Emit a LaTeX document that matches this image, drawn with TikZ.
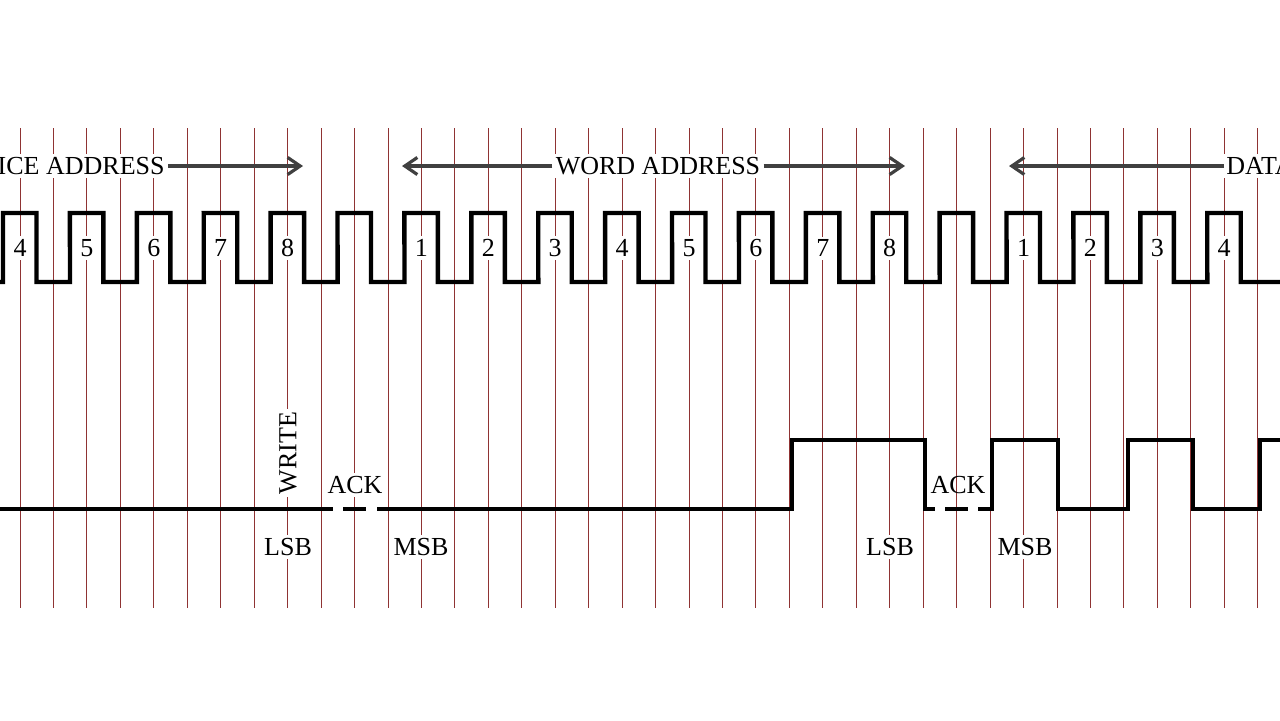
\documentclass[tikz,border=0pt]{standalone}
\usepackage{fontspec}
\setmainfont{Liberation Serif}
\usetikzlibrary{positioning, arrows.meta}

\begin{document}
\begin{tikzpicture}[x=0.5pt, y=-0.5pt,
    gridline/.style={line width=0.45pt, red!45!black!80},
    signal/.style={line width=2.2pt, line join=miter},
    label/.style={font=\fontsize{13}{15}\selectfont, fill=white, inner sep=1.5pt},
    arrow/.style={-{Straight Barb[length=2.2mm, width=3mm]}, line width=1.6pt, black!75}
]
    \useasboundingbox (0,0) rectangle (1280,720);
    \clip (0,0) rectangle (1280,720);

    % Grid lines
    \foreach \k in {0,...,37}
        \draw[gridline] ({20+33.45*\k},128) -- ({20+33.45*\k},608);

    % Clock
    \draw[signal] (0,282) -- (3,282)
        \foreach \j in {0,...,18} {
            -- ({3+66.9*\j},213) -- ({36.5+66.9*\j},213)
            -- ({36.5+66.9*\j},282) -- ({70+66.9*\j},282)
        } -- (1280,282);

    % Bit numbers
    \foreach \n/\j in {4/0,5/1,6/2,7/3,8/4,1/6,2/7,3/8,4/9,5/10,6/11,7/12,8/13,1/15,2/16,3/17,4/18}
        \node[label] (bit\j) at ({20+66.9*\j},248) {\n};

    % Data line
    \draw[signal] (0,509) -- (333,509);
    \draw[signal] (343,509) -- (366,509);
    \draw[signal] (377,509) -- (792,509) -- (792,440) -- (925,440) -- (925,509) -- (935,509);
    \draw[signal] (945,509) -- (968,509);
    \draw[signal] (978,509) -- (992,509) -- (992,440) -- (1058,440) -- (1058,509)
        -- (1128,509) -- (1128,440) -- (1193,440) -- (1193,509) -- (1260,509)
        -- (1260,440) -- (1280,440);

    % Field labels
    \node[label, anchor=east] (dev) at (168,166) {ICE ADDRESS};
    \coordinate (devend) at (303,166);
    \draw[arrow] (dev.east) -- (devend);
    \node[label] (word) at (658,166) {WORD ADDRESS};
    \coordinate (wordbeg) at (402,166);
    \coordinate (wordend) at (905,166);
    \draw[arrow] (word.west) -- (wordbeg);
    \draw[arrow] (word.east) -- (wordend);
    \node[label, anchor=west, inner xsep=1pt] (data) at (1224,166) {DATA};
    \coordinate (databeg) at (1009,166);
    \draw[arrow] (data.west) -- (databeg);

    % Bit labels
    \node[label, rotate=90] (write) at (288,453) {WRITE};
    \node[label] (ack1) at (355,485) {ACK};
    \node[label] (lsb1) at (288,547) {LSB};
    \node[label] (msb1) at (421,547) {MSB};
    \node[label] (lsb2) at (890,547) {LSB};
    \node[label, fill=none] (ack2) at (958,485) {ACK};
    \node[label] (msb2) at (1025,547) {MSB};
\end{tikzpicture}
\end{document}
